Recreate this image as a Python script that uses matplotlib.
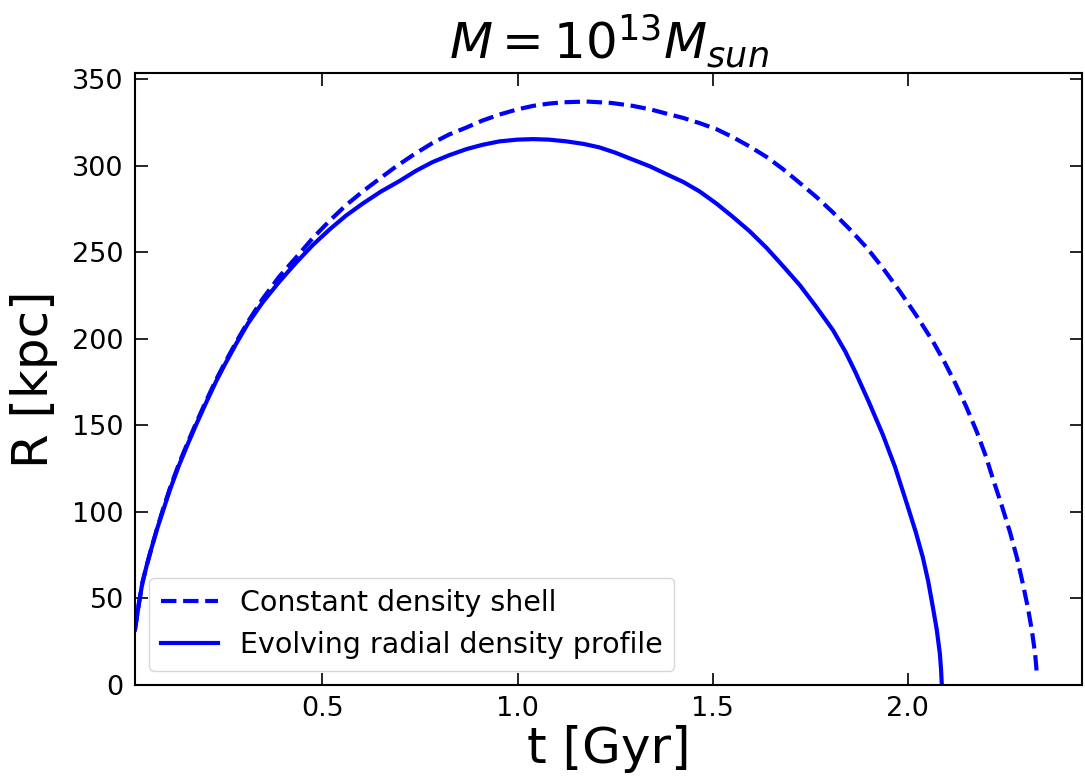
import matplotlib
matplotlib.use("Agg")
import matplotlib.pyplot as plt

# values
# constant density shell (dashed)
t_const = [0.02, 0.03, 0.039, 0.05, 0.061, 0.075, 0.091, 0.11, 0.133, 0.155,
           0.176, 0.2, 0.227, 0.25, 0.279, 0.31, 0.347, 0.39, 0.433, 0.475,
           0.518, 0.56, 0.603, 0.65, 0.689, 0.735, 0.782, 0.825, 0.869, 0.91,
           0.954, 1.0, 1.04, 1.08, 1.12, 1.177, 1.24, 1.295, 1.34, 1.382,
           1.425, 1.467, 1.51, 1.551, 1.595, 1.638, 1.68, 1.723, 1.765, 1.808,
           1.85, 1.895, 1.937, 1.979, 2.02, 2.064, 2.095, 2.121, 2.15, 2.177,
           2.2, 2.218, 2.24, 2.262, 2.28, 2.295, 2.308, 2.318, 2.326, 2.331]
r_const = [32, 47, 59, 69, 78, 89, 101, 114, 128, 140,
           151, 163, 176, 186, 198, 210, 223, 236, 247, 258,
           268, 277, 285, 293, 299.5, 306.5, 313, 318, 322, 326,
           329.5, 332.5, 334.5, 335.8, 336.6, 337, 336.2, 334.5, 332.5, 330,
           327.5, 324.5, 321, 316.5, 311, 305, 298, 290, 282, 273,
           263.5, 252.5, 240.5, 227.5, 214, 198.5, 186, 174.5, 160.5, 146,
           132, 119, 104, 88, 73, 58, 44, 31, 18, 5]

# evolving radial density profile (solid)
t_evol = [0.02, 0.03, 0.039, 0.05, 0.061, 0.075, 0.091, 0.11, 0.133, 0.155,
          0.176, 0.2, 0.227, 0.25, 0.279, 0.31, 0.347, 0.39, 0.433, 0.475,
          0.518, 0.56, 0.603, 0.65, 0.697, 0.74, 0.782, 0.825, 0.869, 0.91,
          0.954, 1.0, 1.04, 1.08, 1.125, 1.17, 1.21, 1.25, 1.295, 1.34,
          1.382, 1.425, 1.467, 1.51, 1.551, 1.595, 1.638, 1.68, 1.723, 1.765,
          1.808, 1.84, 1.866, 1.9, 1.936, 1.967, 1.997, 2.02, 2.038, 2.052,
          2.064, 2.074, 2.082, 2.085, 2.087]
r_evol = [32, 47, 59, 69, 78, 89, 100, 113, 127, 139,
          150, 162, 175, 185, 197, 209, 221, 233, 244, 254,
          263, 271, 278, 285, 291, 297, 302, 306, 309.5, 312,
          314, 315, 315.3, 315, 314, 312.5, 310.5, 307.5, 303.5, 299.5,
          295, 290.5, 285, 278, 270.5, 262, 252.5, 242, 231, 218.5,
          205, 192.5, 180.5, 163.5, 144.5, 126, 105, 88.5, 74, 60,
          45, 32, 18, 9, 0]

x_ticks = [0.5, 1.0, 1.5, 2.0]
y_ticks = [0, 50, 100, 150, 200, 250, 300, 350]

fig = plt.figure(figsize=(10.85, 7.83), dpi=100)
ax = fig.add_axes([0.1244, 0.1252, 0.8728, 0.7816])

ax.plot(t_const, r_const, "b--", lw=3, label="Constant density shell")
ax.plot(t_evol, r_evol, "b-", lw=3, label="Evolving radial density profile")

ax.set_xlim(0.02, 2.446)
ax.set_ylim(0, 353.5)
ax.set_xticks(x_ticks)
ax.set_yticks(y_ticks)
ax.tick_params(direction="in", top=True, right=True, length=9, width=1.2,
               labelsize=19.5, pad=8)
for s in ax.spines.values():
    s.set_linewidth(1.5)

ax.set_xlabel("t [Gyr]", fontsize=36, labelpad=2)
ax.set_ylabel("R [kpc]", fontsize=36, labelpad=10)
ax.set_title(r"$M = 10^{13} M_{sun}$", fontsize=36, pad=10)
ax.legend(loc="lower left", fontsize=20.5)

fig.savefig("out.png", dpi=100)
